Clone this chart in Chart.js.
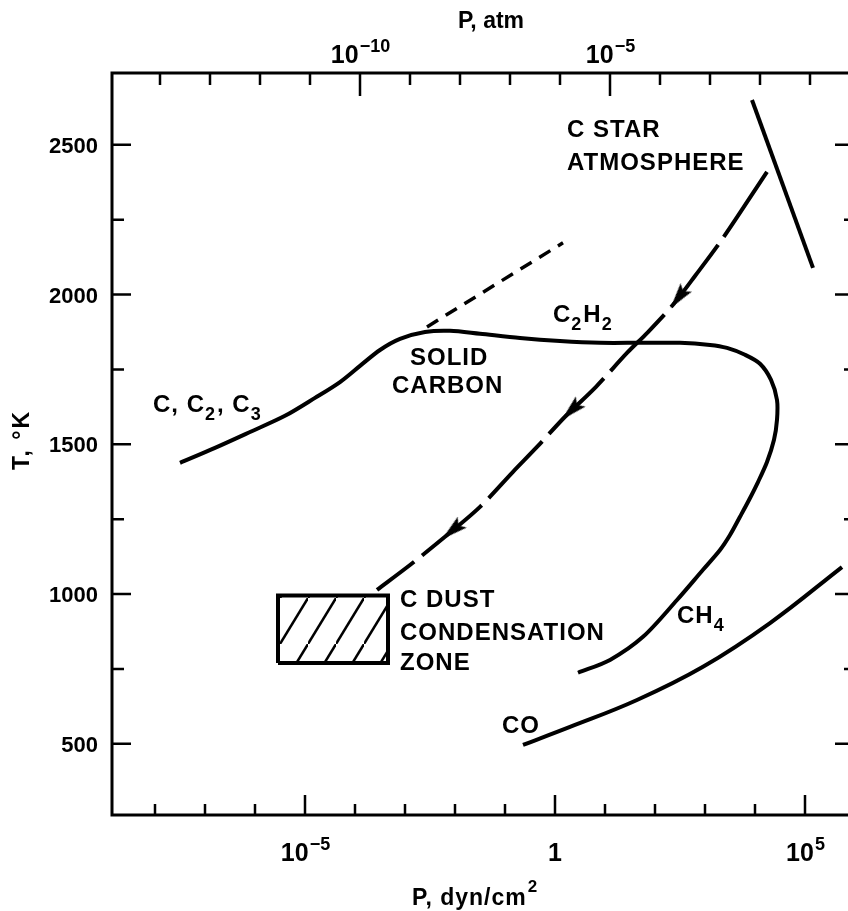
<!DOCTYPE html>
<html>
<head>
<meta charset="utf-8">
<script src="https://cdn.jsdelivr.net/npm/chart.js@4.4.0/dist/chart.umd.min.js"></script>
<style>
html, body { margin: 0; padding: 0; background: #fff; overflow: hidden; }
#wrap { width: 870px; height: 911px; }
</style>
</head>
<body>
<div id="wrap"><canvas id="chart" width="870" height="911"></canvas></div>
<script>
// values: x is log10 P (dyn/cm2), y is T (K)
var curveLogP = [-7.5, -6.8, -6.1, -5.4, -4.8, -4.3, -3.9, -3.5, -3.1, -2.6, -2.1, -1.5, -0.7, 0.1, 0.9, 1.7, 2.5, 3.1, 3.44, 3.8, 4.1, 4.32, 4.44, 4.44, 4.38, 4.24, 4.06, 3.88, 3.7, 3.5, 3.3, 2.96, 2.44, 1.76, 1.1, 0.46];
var curveT    = [1438, 1488, 1541, 1595, 1655, 1708, 1762, 1815, 1852, 1875, 1879, 1869, 1855, 1845, 1839, 1839, 1839, 1832, 1822, 1799, 1769, 1715, 1648, 1582, 1515, 1441, 1374, 1314, 1258, 1197, 1147, 1081, 980, 857, 780, 737];

var coLogP = [-0.64, 0.3, 1.64, 2.96, 4.3, 5.74];
var coT    = [496, 556, 646, 757, 903, 1090];

var pathLogP = [4.24, 3.36, 2.8, 2.36, 1.86, 1.44, 0.82, 0.2, -0.36, -0.84, -1.5, -2.2, -2.9, -3.56];
var pathT    = [2410, 2189, 2062, 1966, 1875, 1805, 1692, 1592, 1491, 1408, 1291, 1191, 1097, 1014];

var arrowLogP = [2.48, 0.34, -2.04];
var arrowT    = [1992, 1615, 1214];
var arrowAngle = [217, 226, 230];

var dashLogP = [-2.56, 0.16];
var dashT    = [1892, 2173];

var starLogP = [3.94, 5.16];
var starT    = [2650, 2089];

var boxLogP = [-5.54, -3.34];
var boxT    = [770, 995];

var xMin = -8.86, xMax = 5.94;
var yMin = 262, yMax = 2740;

var yTicks = [500, 1000, 1500, 2000, 2500];
var yMinor = [750, 1250, 1750, 2250];
var dynDecades = [-8, -7, -6, -5, -4, -3, -2, -1, 0, 1, 2, 3, 4, 5];
var dynMajor = [-5, 0, 5];
var atmDecades = [-14, -13, -12, -11, -10, -9, -8, -7, -6, -5, -4, -3, -2, -1];
var atmMajor = [-10, -5];
var atmOffset = 6.1; // log10 of dyn/cm2 per atm, as drawn

// [text, logP, T]; "_n" marks a subscript
var labels = [
   ["C STAR", 0.24, 2527],
   ["ATMOSPHERE", 0.24, 2416],
   ["C_2H_2", -0.04, 1909],
   ["SOLID", -2.9, 1765],
   ["CARBON", -3.26, 1672],
   ["C, C_2, C_3", -8.04, 1608],
   ["C DUST", -3.1, 957],
   ["CONDENSATION", -3.1, 847],
   ["ZONE", -3.1, 747],
   ["CH_4", 2.44, 903],
   ["CO", -1.06, 536]
];

function pts(xs, ys) {
   var out = [];
   for (var i = 0; i < xs.length; ++i) out.push({x: xs[i], y: ys[i]});
   return out;
}

function boxPts() {
   return [
      {x: boxLogP[0], y: boxT[0]}, {x: boxLogP[1], y: boxT[0]},
      {x: boxLogP[1], y: boxT[1]}, {x: boxLogP[0], y: boxT[1]},
      {x: boxLogP[0], y: boxT[0]}
   ];
}

// hatch pattern for the dust zone
function hatch() {
   var c = document.createElement("canvas");
   c.width = 28; c.height = 46;
   var g = c.getContext("2d");
   g.strokeStyle = "#000";
   g.lineWidth = 2.5;
   g.beginPath();
   g.moveTo(-28, 92); g.lineTo(56, -46);
   g.stroke();
   return c;
}

function arrowHead() {
   var c = document.createElement("canvas");
   c.width = 16; c.height = 28;
   var g = c.getContext("2d");
   g.fillStyle = "#000";
   g.beginPath();
   g.moveTo(8, 0); g.lineTo(15, 26); g.lineTo(8, 21); g.lineTo(1, 26);
   g.closePath();
   g.fill();
   return c;
}

// draws a base with a raised exponent, centered at x
function drawPow(ctx, base, exp, x, y, size) {
   var fb = "bold " + size + "px 'Liberation Sans'";
   var fe = "bold " + Math.round(size * 0.72) + "px 'Liberation Sans'";
   ctx.font = fb;
   var wb = ctx.measureText(base).width;
   ctx.font = fe;
   var we = exp ? ctx.measureText(exp).width : 0;
   var x0 = x - (wb + we) / 2;
   ctx.textAlign = "left";
   ctx.font = fb;
   ctx.fillText(base, x0, y);
   if (exp) {
      ctx.font = fe;
      ctx.fillText(exp, x0 + wb + 1, y - size * 0.45);
   }
}

// text with "_n" subscripts
function drawSub(ctx, text, x, y) {
   var parts = text.split("_");
   var cx = x;
   for (var i = 0; i < parts.length; ++i) {
      var s = parts[i];
      if (i > 0) {
         ctx.font = "bold 18px 'Liberation Sans'";
         ctx.fillText(s[0], cx, y + 8);
         cx += ctx.measureText(s[0]).width + 1;
         s = s.slice(1);
      }
      ctx.font = "bold 24px 'Liberation Sans'";
      ctx.fillText(s, cx, y);
      cx += ctx.measureText(s).width;
   }
}

var framePlugin = {
   id: "frame",
   afterDraw: function (chart) {
      var ctx = chart.ctx;
      var a = chart.chartArea;
      var xs = chart.scales.x, ys = chart.scales.y;
      ctx.save();
      ctx.strokeStyle = "#000";
      ctx.fillStyle = "#000";
      ctx.lineWidth = 3;
      ctx.strokeRect(a.left, a.top, a.right - a.left, a.bottom - a.top);

      ctx.lineWidth = 2.5;
      ctx.beginPath();
      yTicks.concat(yMinor).forEach(function (v) {
         var y = ys.getPixelForValue(v);
         var major = yTicks.indexOf(v) >= 0;
         ctx.moveTo(a.left, y); ctx.lineTo(a.left + (major ? 19 : 12), y);
         ctx.moveTo(a.right, y); ctx.lineTo(a.right - (major ? 17 : 8), y);
      });
      dynDecades.forEach(function (v) {
         var x = xs.getPixelForValue(v);
         var major = dynMajor.indexOf(v) >= 0;
         ctx.moveTo(x, a.bottom); ctx.lineTo(x, a.bottom - (major ? 20 : 11));
      });
      atmDecades.forEach(function (v) {
         var x = xs.getPixelForValue(v + atmOffset);
         var major = atmMajor.indexOf(v) >= 0;
         ctx.moveTo(x, a.top); ctx.lineTo(x, a.top + (major ? 23 : 12));
      });
      ctx.stroke();

      // tick labels
      ctx.textBaseline = "alphabetic";
      ctx.font = "bold 22px 'Liberation Sans'";
      ctx.textAlign = "right";
      yTicks.forEach(function (v) {
         ctx.fillText(String(v), 98, ys.getPixelForValue(v) + 8);
      });
      dynMajor.forEach(function (v) {
         var x = xs.getPixelForValue(v);
         if (v == 0) drawPow(ctx, "1", "", x, 861, 25);
         else drawPow(ctx, "10", String(v).replace("-", "\u2212"), x, 861, 25);
      });
      atmMajor.forEach(function (v) {
         var x = xs.getPixelForValue(v + atmOffset);
         drawPow(ctx, "10", String(v).replace("-", "\u2212"), x, 63, 25);
      });

      // axis titles
      ctx.font = "bold 23px 'Liberation Sans'";
      ctx.textAlign = "center";
      ctx.fillText("P, atm", 491, 28);
      ctx.textAlign = "left";
      ctx.letterSpacing = "1px";
      ctx.fillText("P, dyn/cm", 412, 905);
      var w = ctx.measureText("P, dyn/cm").width;
      ctx.font = "bold 17px 'Liberation Sans'";
      ctx.fillText("2", 413 + w, 892);
      ctx.save();
      ctx.translate(29, 440);
      ctx.rotate(-Math.PI / 2);
      ctx.textAlign = "center";
      ctx.font = "bold 23px 'Liberation Sans'";
      ctx.letterSpacing = "2px";
      ctx.fillText("T, \u00B0K", 0, 0);
      ctx.restore();

      // annotations
      ctx.textAlign = "left";
      ctx.letterSpacing = "1px";
      labels.forEach(function (l) {
         drawSub(ctx, l[0], xs.getPixelForValue(l[1]), ys.getPixelForValue(l[2]));
      });
      ctx.restore();
   }
};

var solid = {borderColor: "#000", borderWidth: 4, pointRadius: 0, fill: false};

var config = {
   type: "line",
   data: {
      datasets: [
         Object.assign({data: pts(curveLogP, curveT), tension: 0.3}, solid),
         Object.assign({data: pts(coLogP, coT), tension: 0.4}, solid),
         Object.assign({data: pts(starLogP, starT), tension: 0}, solid),
         Object.assign({data: pts(pathLogP, pathT), tension: 0.3, borderDash: [78, 10]}, solid),
         Object.assign({data: pts(dashLogP, dashT), tension: 0}, solid, {borderWidth: 3.5, borderDash: [13, 9]}),
         {
            data: boxPts(), tension: 0, borderColor: "#000", borderWidth: 4,
            pointRadius: 0, fill: "shape", backgroundColor: null
         },
         {
            data: pts(arrowLogP, arrowT), showLine: false,
            pointStyle: arrowHead(), pointRadius: 10, rotation: arrowAngle
         }
      ]
   },
   options: {
      responsive: false,
      animation: false,
      devicePixelRatio: 1,
      layout: {padding: {left: 112, top: 73, right: 18, bottom: 96}},
      plugins: {legend: {display: false}, tooltip: {enabled: false}},
      scales: {
         x: {type: "linear", min: xMin, max: xMax, display: false},
         y: {type: "linear", min: yMin, max: yMax, display: false}
      }
   },
   plugins: [framePlugin]
};

var ctx = document.getElementById("chart").getContext("2d");
config.data.datasets[5].backgroundColor = ctx.createPattern(hatch(), "repeat");
new Chart(ctx, config);
</script>
</body>
</html>
